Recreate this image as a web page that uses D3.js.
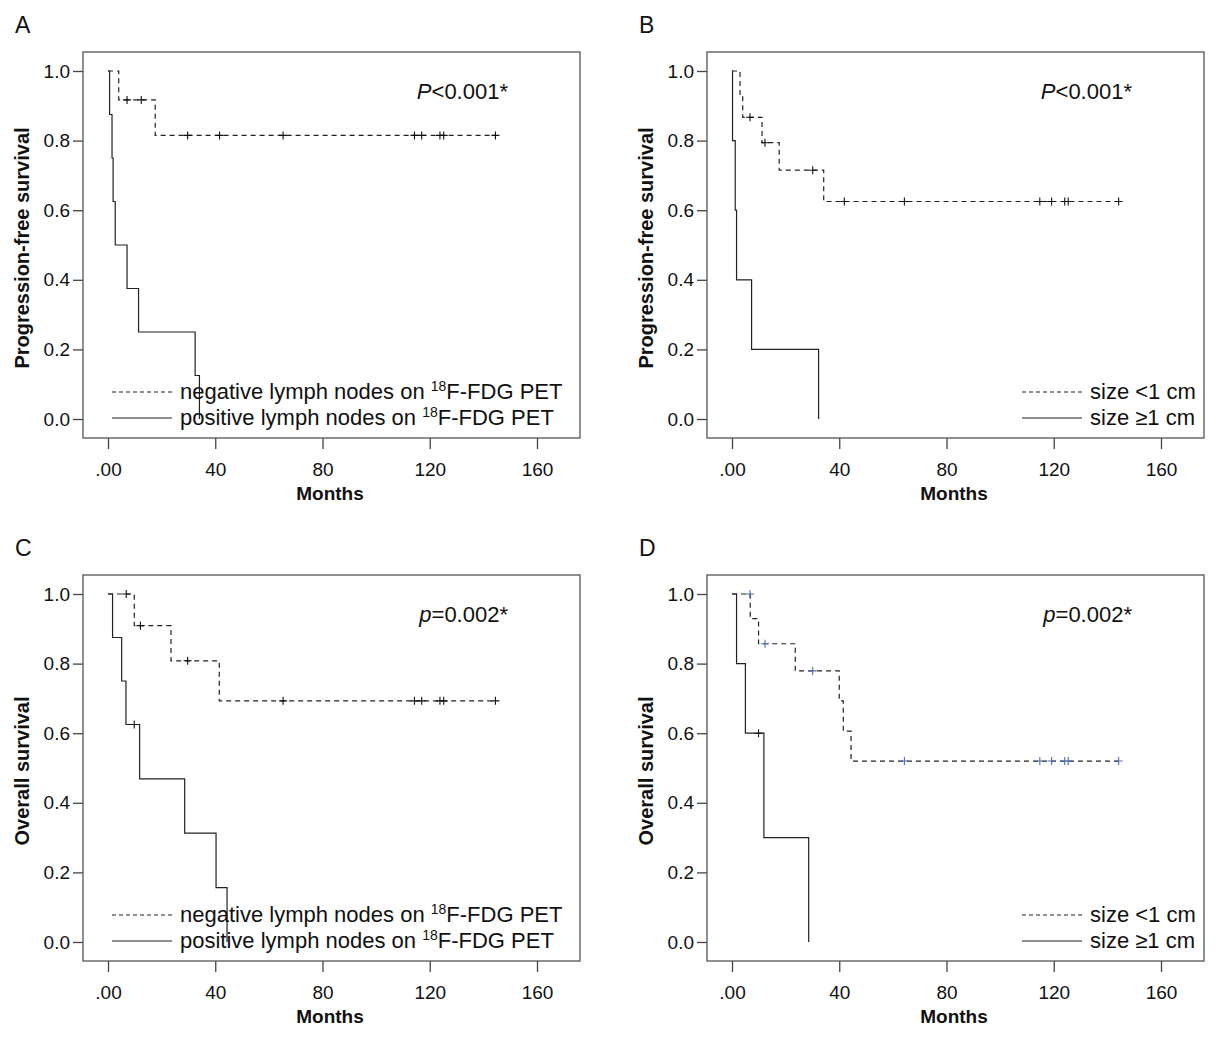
<!DOCTYPE html>
<html lang="en">
<head>
    <meta charset="UTF-8">
    <title>Kaplan-Meier curves</title>
    <script src="https://d3js.org/d3.v7.min.js"></script>
    <style>
        body { margin: 0; background: #fff; }
        text { font-family: "Liberation Sans", Arial, sans-serif; fill: #111; }
    </style>
</head>
<body>
    <svg id="chart" width="1227" height="1039"></svg>
    <script>
        // axis ticks shared by all four panels
        const monthTicks = [0, 40, 80, 120, 160];
        const survTicks = [0, 0.2, 0.4, 0.6, 0.8, 1.0];

        // A: progression-free survival by lymph node status on PET
        const aNegTimes = [4.0, 17.6];
        const aNegSurv = [0.917, 0.815];
        const aNegCens = [7.1, 12.4, 29.7, 41.6, 65.3, 114.3, 117.0, 123.8, 125.2, 144.5];
        const aPosTimes = [0.6, 1.5, 1.9, 2.7, 7.1, 11.4, 32.5, 34.1];
        const aPosSurv = [0.875, 0.75, 0.625, 0.5, 0.375, 0.25, 0.125, 0.0];
        const aPosCens = [];

        // B: progression-free survival by lesion size
        const bNegTimes = [3.0, 4.0, 11.2, 17.6, 34.2];
        const bNegSurv = [0.933, 0.867, 0.794, 0.715, 0.625];
        const bNegCens = [6.7, 12.3, 30.1, 41.9, 64.3, 114.8, 119.2, 124.1, 125.4, 144.2];
        const bPosTimes = [0.2, 1.2, 1.7, 7.3, 32.3];
        const bPosSurv = [0.8, 0.6, 0.4, 0.2, 0.0];
        const bPosCens = [];

        // C: overall survival by lymph node status on PET
        const cNegTimes = [9.8, 23.5, 41.5];
        const cNegSurv = [0.909, 0.808, 0.693];
        const cNegCens = [6.8, 12.1, 29.7, 65.3, 114.3, 117.0, 123.8, 125.2, 144.5];
        const cPosTimes = [1.7, 5.1, 6.7, 11.8, 28.6, 40.3, 44.4];
        const cPosSurv = [0.875, 0.75, 0.625, 0.469, 0.313, 0.156, 0.0];
        const cPosCens = [9.8];

        // D: overall survival by lesion size
        const dNegTimes = [6.8, 9.9, 23.6, 40.0, 41.5, 44.4];
        const dNegSurv = [0.929, 0.857, 0.779, 0.693, 0.606, 0.520];
        const dNegCens = [6.7, 12.3, 30.1, 64.3, 114.8, 119.2, 124.1, 125.4, 144.2];
        const dPosTimes = [1.7, 5.0, 11.9, 28.6];
        const dPosSurv = [0.8, 0.6, 0.3, 0.0];
        const dPosCens = [9.9];

        const nodeLabels = ["negative lymph nodes on ", "positive lymph nodes on "];
        const sizeLabels = ["size <1 cm", "size \u22651 cm"];

        const panels = [
            { letter: "A", x: 83, y: 52, ylab: "Progression-free survival", pItalic: "P", pRest: "<0.001*",
              neg: [aNegTimes, aNegSurv, aNegCens], pos: [aPosTimes, aPosSurv, aPosCens],
              labels: nodeLabels, pet: true, legX: 29, censColor: "#111" },
            { letter: "B", x: 707, y: 52, ylab: "Progression-free survival", pItalic: "P", pRest: "<0.001*",
              neg: [bNegTimes, bNegSurv, bNegCens], pos: [bPosTimes, bPosSurv, bPosCens],
              labels: sizeLabels, pet: false, legX: 315, censColor: "#111" },
            { letter: "C", x: 83, y: 575, ylab: "Overall survival", pItalic: "p", pRest: "=0.002*",
              neg: [cNegTimes, cNegSurv, cNegCens], pos: [cPosTimes, cPosSurv, cPosCens],
              labels: nodeLabels, pet: true, legX: 29, censColor: "#111" },
            { letter: "D", x: 707, y: 575, ylab: "Overall survival", pItalic: "p", pRest: "=0.002*",
              neg: [dNegTimes, dNegSurv, dNegCens], pos: [dPosTimes, dPosSurv, dPosCens],
              labels: sizeLabels, pet: false, legX: 315, censColor: "#4f6cb8" }
        ];

        const frameW = 497, frameH = 386;
        const svg = d3.select("#chart");

        // survival value at time t for a step curve
        function survAt(times, surv, t) {
            let s = 1;
            times.forEach((tt, i) => { if (tt <= t) s = surv[i]; });
            return s;
        }

        function drawPanel(p) {
            const g = svg.append("g").attr("transform", `translate(${p.x},${p.y})`);

            const x = d3.scaleLinear().domain([0, 160]).range([25, 454]);
            const y = d3.scaleLinear().domain([0, 1]).range([367, 19]);

            // panel letter
            svg.append("text")
                .attr("x", p.x - 68).attr("y", p.y - 19)
                .attr("font-size", 23)
                .text(p.letter);

            // axes
            const xAxis = g.append("g")
                .attr("transform", `translate(0,${frameH})`)
                .call(d3.axisBottom(x).tickValues(monthTicks).tickSize(11).tickPadding(14)
                    .tickFormat(d => d === 0 ? ".00" : d3.format("d")(d)));
            const yAxis = g.append("g")
                .call(d3.axisLeft(y).tickValues(survTicks).tickSize(10).tickPadding(3)
                    .tickFormat(d3.format(".1f")));
            [xAxis, yAxis].forEach(a => {
                a.select(".domain").remove();
                a.selectAll("line").attr("stroke", "#444").attr("stroke-width", 1.3);
                a.selectAll("text").attr("font-size", 19).attr("fill", "#111")
                    .attr("font-family", "'Liberation Sans', Arial, sans-serif");
            });

            // frame
            g.append("rect")
                .attr("width", frameW).attr("height", frameH)
                .attr("fill", "none").attr("stroke", "#555").attr("stroke-width", 1.3);

            // axis titles
            g.append("text")
                .attr("x", 247).attr("y", frameH + 62)
                .attr("text-anchor", "middle")
                .attr("font-size", 19).attr("font-weight", "bold")
                .text("Months");
            g.append("text")
                .attr("transform", `translate(-54,${(y(0) + y(1)) / 2 + 3}) rotate(-90)`)
                .attr("text-anchor", "middle")
                .attr("font-size", 20).attr("font-weight", "bold")
                .text(p.ylab);

            // p value
            const pt = g.append("text")
                .attr("x", frameW - 72).attr("y", 47)
                .attr("text-anchor", "end")
                .attr("font-size", 22);
            pt.append("tspan").attr("font-style", "italic").text(p.pItalic);
            pt.append("tspan").text(p.pRest);

            const line = d3.line()
                .x(d => x(d[0]))
                .y(d => y(d[1]))
                .curve(d3.curveStepAfter);

            [[p.neg, "5,4"], [p.pos, null]].forEach(([curve, dash]) => {
                const [times, surv, cens] = curve;
                const tEnd = d3.max([d3.max(times) || 0, d3.max(cens) || 0]);
                const pts = [[0, 1]].concat(times.map((t, i) => [t, surv[i]]));
                if (tEnd > times[times.length - 1]) pts.push([tEnd, surv[surv.length - 1]]);

                g.append("path")
                    .datum(pts)
                    .attr("fill", "none")
                    .attr("stroke", "#222")
                    .attr("stroke-width", 1.2)
                    .attr("stroke-dasharray", dash)
                    .attr("d", line);

                // censor marks
                g.selectAll(null)
                    .data(cens)
                    .enter().append("path")
                    .attr("fill", "none")
                    .attr("stroke", dash ? p.censColor : "#111")
                    .attr("stroke-width", 1.1)
                    .attr("d", t => {
                        const cx = x(t), cy = y(survAt(times, surv, t));
                        return `M${cx - 4},${cy}H${cx + 4}M${cx},${cy - 4}V${cy + 4}`;
                    });
            });

            // legend
            const legY = [frameH - 46, frameH - 20];
            legY.forEach((ly, i) => {
                g.append("line")
                    .attr("x1", p.legX).attr("x2", p.legX + 60)
                    .attr("y1", ly).attr("y2", ly)
                    .attr("stroke", "#222").attr("stroke-width", 1.1)
                    .attr("stroke-dasharray", i === 0 ? "4,3" : null);
                const t = g.append("text")
                    .attr("x", p.legX + 68).attr("y", ly + 7)
                    .attr("font-size", 22)
                    .text(p.labels[i]);
                if (p.pet) {
                    t.append("tspan").attr("font-size", 14).attr("dy", -8).text("18");
                    t.append("tspan").attr("dy", 8).text("F-FDG PET");
                }
            });
        }

        panels.forEach(drawPanel);
    </script>
</body>
</html>
